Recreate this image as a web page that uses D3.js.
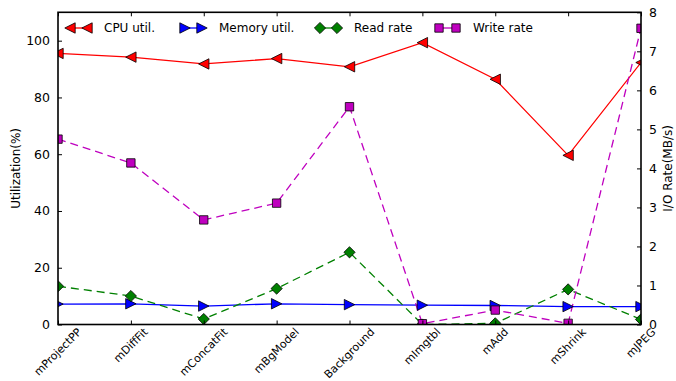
<!DOCTYPE html>
<html>
<head>
<meta charset="utf-8">
<script src="https://cdn.jsdelivr.net/npm/d3@7"></script>
<style>
  html, body { margin: 0; padding: 0; background: #fff; }
  svg { display: block; font-family: "DejaVu Sans", sans-serif; }
</style>
</head>
<body>
<svg id="chart" width="676" height="381"></svg>
<script>
// Montage workflow stages
const stages = ["mProjectPP", "mDiffFit", "mConcatFit", "mBgModel", "Background", "mImgtbl", "mAdd", "mShrink", "mJPEG"];

// Utilization (%), left axis
const cpuUtil = [95.5, 94.2, 91.8, 93.7, 90.8, 99.3, 86.4, 59.6, 92.3];
const memUtil = [7.2, 7.3, 6.5, 7.3, 7.0, 6.8, 6.7, 6.3, 6.3];

// I/O rate (MB/s), right axis
const readRate = [0.98, 0.73, 0.14, 0.92, 1.85, 0.0, 0.03, 0.90, 0.13];
const writeRate = [4.75, 4.14, 2.68, 3.11, 5.58, 0.02, 0.37, 0.03, 7.59];

const leftTicks = [0, 20, 40, 60, 80, 100];
const rightTicks = [0, 1, 2, 3, 4, 5, 6, 7, 8];

const svg = d3.select("#chart");
const W = 676, H = 381;
const L = 58, R = 641, T = 12.3, B = 324.5;
const FS = 12;
const XFS = 11;

const x = d3.scalePoint().domain(stages).range([L, R]);
const yL = d3.scaleLinear().domain([0, 110]).range([B, T]);
const yR = d3.scaleLinear().domain([0, 8]).range([B, T]);

svg.append("defs").append("clipPath").attr("id", "plotClip")
  .append("rect").attr("x", L).attr("y", T).attr("width", R - L).attr("height", B - T);

const series = [
  { name: "CPU util.", values: cpuUtil, y: yL, color: "#ff0000", dash: null, marker: "triLeft" },
  { name: "Memory util.", values: memUtil, y: yL, color: "#0000ff", dash: null, marker: "triRight" },
  { name: "Read rate", values: readRate, y: yR, color: "#008000", dash: "8,5", marker: "diamond" },
  { name: "Write rate", values: writeRate, y: yR, color: "#bf00bf", dash: "8,5", marker: "square" }
];

function markerPath(kind) {
  const s = 5.2;
  switch (kind) {
    case "triLeft": return `M${-s},0L${s},${-s}L${s},${s}Z`;
    case "triRight": return `M${s},0L${-s},${-s}L${-s},${s}Z`;
    case "diamond": { const d = 5.6; return `M0,${-d}L${d},0L0,${d}L${-d},0Z`; }
    case "square": { const q = 4.2; return `M${-q},${-q}H${q}V${q}H${-q}Z`; }
  }
}

const plot = svg.append("g").attr("clip-path", "url(#plotClip)");
series.forEach(s => {
  const line = d3.line().x((d, i) => x(stages[i])).y(d => s.y(d));
  plot.append("path")
    .attr("d", line(s.values))
    .attr("fill", "none")
    .attr("stroke", s.color)
    .attr("stroke-width", 1.3)
    .attr("stroke-dasharray", s.dash);
});
series.forEach(s => {
  plot.selectAll(null).data(s.values).enter().append("path")
    .attr("d", markerPath(s.marker))
    .attr("transform", (d, i) => `translate(${x(stages[i])},${s.y(d)})`)
    .attr("fill", s.color)
    .attr("stroke", "#000")
    .attr("stroke-width", 0.8);
});

// Axes: ticks drawn inward on every side
const tickLen = 4;
const axes = svg.append("g");
const leftAxis = d3.axisLeft(yL).tickValues(leftTicks).tickSizeInner(-tickLen).tickSizeOuter(0).tickPadding(8);
const rightAxis = d3.axisRight(yR).tickValues(rightTicks).tickSizeInner(-tickLen).tickSizeOuter(0).tickPadding(8);
const bottomAxis = d3.axisBottom(x).tickSizeInner(-tickLen).tickSizeOuter(0).tickFormat("");
const topAxis = d3.axisTop(x).tickSizeInner(-tickLen).tickSizeOuter(0).tickFormat("");

function styleAxis(g) {
  g.select(".domain").remove();
  g.selectAll(".tick line").attr("stroke", "#000").attr("stroke-width", 1);
  g.selectAll(".tick text").attr("fill", "#000").attr("font-size", 12.5).attr("font-family", "DejaVu Sans, sans-serif");
}
axes.append("g").attr("transform", `translate(${L},0)`).call(leftAxis).call(styleAxis);
axes.append("g").attr("transform", `translate(${R},0)`).call(rightAxis).call(styleAxis);
axes.append("g").attr("transform", `translate(0,${B})`).call(bottomAxis).call(styleAxis);
axes.append("g").attr("transform", `translate(0,${T})`).call(topAxis).call(styleAxis);

// Rotated category labels, bounding box centred under each tick
const labelG = svg.append("g");
const rot = Math.SQRT1_2;
const labels = stages.map(name => {
  const t = labelG.append("text")
    .text(name)
    .attr("font-size", XFS)
    .attr("text-anchor", "middle")
    .attr("dominant-baseline", "central")
    .attr("fill", "#000");
  return { name, t, diag: (t.node().getComputedTextLength() + XFS) * rot };
});
const labelTop = Math.min(B + 3, H - 0.5 - d3.max(labels, d => d.diag));
labels.forEach(d => {
  d.t.attr("transform", `translate(${x(d.name)},${labelTop + d.diag / 2}) rotate(-45)`);
});

// Frame
svg.append("rect")
  .attr("x", L).attr("y", T).attr("width", R - L).attr("height", B - T)
  .attr("fill", "none").attr("stroke", "#000").attr("stroke-width", 1.6);

// Axis titles
svg.append("text")
  .text("Utilization(%)")
  .attr("font-size", FS)
  .attr("text-anchor", "middle")
  .attr("transform", `translate(20,${(T + B) / 2}) rotate(-90)`);
svg.append("text")
  .text("I/O Rate(MB/s)")
  .attr("font-size", FS)
  .attr("text-anchor", "middle")
  .attr("transform", `translate(672,${(T + B) / 2}) rotate(-90)`);

// Legend
const legendX = [70, 185, 320, 439];
const legend = svg.append("g");
series.forEach((s, i) => {
  const g = legend.append("g").attr("transform", `translate(${legendX[i]},28)`);
  g.append("line").attr("x1", 0).attr("x2", 17).attr("y1", 0).attr("y2", 0)
    .attr("stroke", s.color).attr("stroke-width", 1.3);
  [0, 17].forEach(px => {
    g.append("path").attr("d", markerPath(s.marker))
      .attr("transform", `translate(${px},0)`)
      .attr("fill", s.color).attr("stroke", "#000").attr("stroke-width", 0.8);
  });
  g.append("text").text(s.name)
    .attr("x", 34).attr("y", 0)
    .attr("dominant-baseline", "central")
    .attr("font-size", FS)
    .attr("fill", "#000");
});
</script>
</body>
</html>
